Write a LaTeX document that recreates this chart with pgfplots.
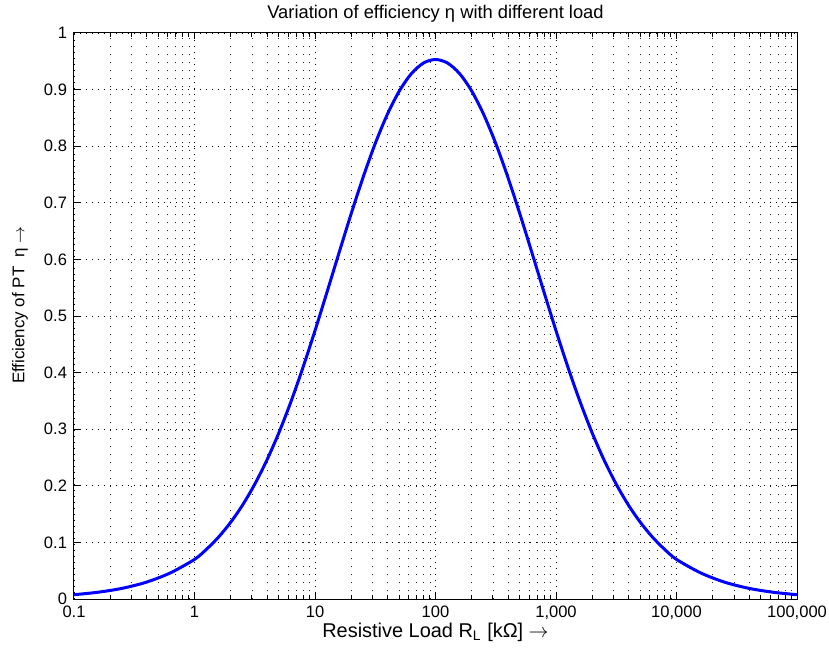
\documentclass[border=0pt]{standalone}
\usepackage{pgfplots}
\pgfplotsset{compat=1.18}
\usepackage{fontspec}
\setmainfont{Liberation Sans}
\definecolor{mblue}{RGB}{0,0,255}
\begin{document}
\begin{tikzpicture}
\begin{axis}[
  name=ax,
  scale only axis,
  width=361.5bp, height=283bp,
  xmode=log, log basis x=10,
  xmin=0.1, xmax=100000, ymin=0, ymax=1,
  xtick={0.1,1,10,100,1000,10000,100000},
  minor xtick={0.2,0.3,0.4,0.5,0.6,0.7,0.8,0.9,2,3,4,5,6,7,8,9,20,30,40,50,60,70,80,90,200,300,400,500,600,700,800,900,2000,3000,4000,5000,6000,7000,8000,9000,20000,30000,40000,50000,60000,70000,80000,90000},
  xticklabels={0.1,1,10,100,{1,000},{10,000},{100,000}},
  ytick={0,0.1,0.2,0.3,0.4,0.5,0.6,0.7,0.8,0.9,1},
  yticklabels={0,0.1,0.2,0.3,0.4,0.5,0.6,0.7,0.8,0.9,1},
  tick label style={font=\fontsize{8.3}{9}\selectfont, black},
  xmajorgrids, xminorgrids, ymajorgrids,
  major grid style={black, line width=0.4bp, dash pattern=on 0.5bp off 2.5bp},
  minor grid style={black!85, line width=0.4bp, dash pattern=on 0.5bp off 3.5bp},
  axis line style={black, line width=0.5bp},
  every tick/.style={black, line width=0.5bp},
  tick align=inside,
  major tick length=3bp, minor tick length=1.8bp,
  title={Variation of efficiency η with different load},
  title style={font=\fontsize{9.2}{10}\selectfont, at={(axis description cs:0.5,1)}, anchor=base, yshift=1.5bp},
  xlabel={Resistive Load R\textsubscript{L} [kΩ] $\rightarrow$},
  xlabel style={font=\fontsize{10}{12}\selectfont, at={(axis description cs:0.5,0)}, yshift=-16.5bp, anchor=center},
  ylabel={Efficiency of PT\ \ η $\rightarrow$},
  ylabel style={font=\fontsize{8.5}{10}\selectfont, at={(axis description cs:0,0.5)}, anchor=center, yshift=27bp, xshift=5.5bp},
]
\addplot[mblue, line width=1.5bp, smooth] coordinates {
(0.1,0.0076) (0.15849,0.0120) (0.25119,0.0189) (0.39811,0.0297) (0.63096,0.0462)
(1,0.0700) (1.2589,0.0880) (1.5849,0.1095) (1.9953,0.1355) (2.5119,0.1663)
(3.1623,0.2028) (3.9811,0.2451) (5.0119,0.2936) (6.3096,0.3484) (7.9433,0.4089)
(10,0.4741) (12.589,0.5425) (15.849,0.6120) (19.953,0.6805) (25.119,0.7456)
(31.623,0.8048) (39.811,0.8560) (50.119,0.8976) (63.096,0.9282) (79.433,0.9469)
(100,0.9532)
(125.89,0.9469) (158.49,0.9282) (199.53,0.8976) (251.19,0.8560) (316.23,0.8048)
(398.11,0.7456) (501.19,0.6805) (630.96,0.6120) (794.33,0.5425) (1000,0.4741)
(1258.9,0.4089) (1584.9,0.3484) (1995.3,0.2936) (2511.9,0.2451) (3162.3,0.2028)
(3981.1,0.1663) (5011.9,0.1355) (6309.6,0.1095) (7943.3,0.0880) (10000,0.0700)
(15849,0.0462) (25119,0.0297) (39811,0.0189) (63096,0.0120) (100000,0.0076)
};
\end{axis}
\pgfresetboundingbox
\path[use as bounding box] ([shift={(-37bp,-29.5bp)}]ax.south west) rectangle ([shift={(16bp,16.5bp)}]ax.north east);
\end{tikzpicture}
\end{document}
